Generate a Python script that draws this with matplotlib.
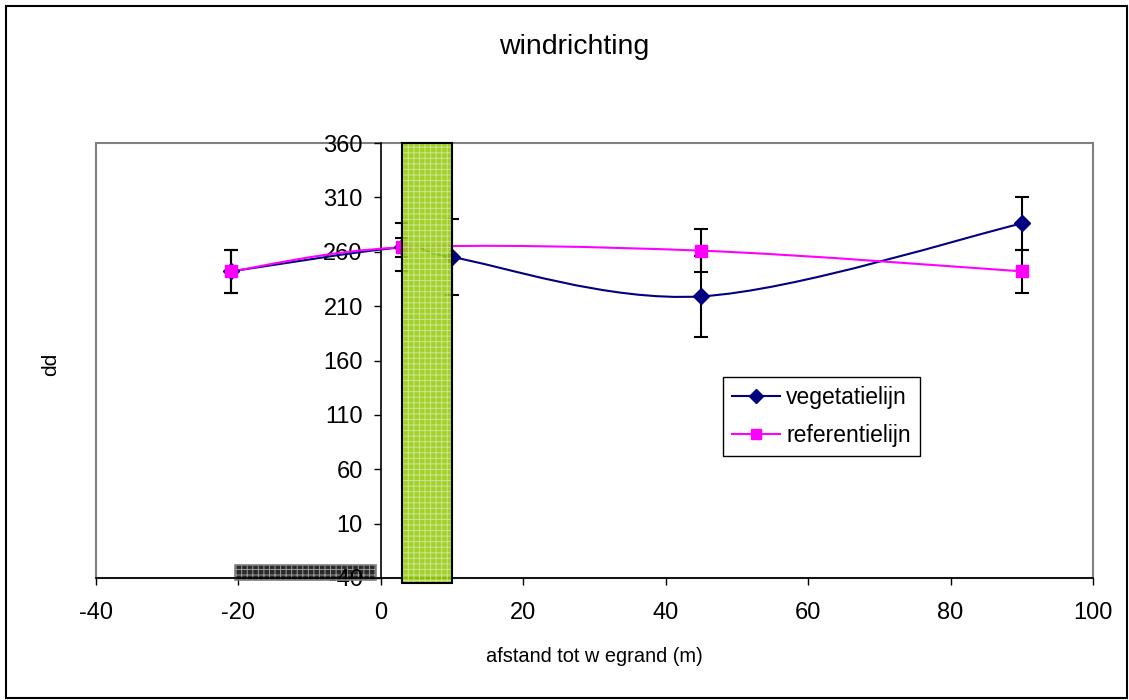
import numpy as np
import matplotlib
matplotlib.use("Agg")
import matplotlib.pyplot as plt
from matplotlib.path import Path
from matplotlib.patches import PathPatch, Rectangle
from matplotlib.lines import Line2D

plt.rcParams['font.family'] = ['Liberation Sans', 'DejaVu Sans']
plt.rcParams['hatch.linewidth'] = 0.7

# data
veg_x = [-21, 3, 10, 45, 90]
veg_y = [242, 264, 255, 219, 286]
veg_err = [20, 22, 35, 37, 24]

ref_x = [-21, 3, 45, 90]
ref_y = [242, 264, 261, 242]
ref_err = [20, 9, 20, 20]

x_ticks = [-40, -20, 0, 20, 40, 60, 80, 100]
y_ticks = [-40, 10, 60, 110, 160, 210, 260, 310, 360]

# shaded zones (x from, x to, y from, y to)
green_zone = (3, 10, -45, 360)
dark_zone = (-20.5, -0.7, -42, -28)


def smooth_path(xs, ys):
    # excel style smoothed line: bezier segments, control points at 1/6
    pts = np.column_stack([xs, ys]).astype(float)
    n = len(pts)
    verts = [pts[0]]
    codes = [Path.MOVETO]
    for i in range(n - 1):
        p0 = pts[i - 1] if i > 0 else pts[i]
        p1 = pts[i]
        p2 = pts[i + 1]
        p3 = pts[i + 2] if i + 2 < n else pts[i + 1]
        c1 = p1 + (p2 - p0) / 6.0
        c2 = p2 - (p3 - p1) / 6.0
        verts += [c1, c2, p2]
        codes += [Path.CURVE4] * 3
    return Path(verts, codes)


fig = plt.figure(figsize=(11.29, 7.0), dpi=100)
ax = fig.add_axes([96 / 1129, 1 - 578 / 700, 997 / 1129, 435 / 700])

ax.set_xlim(-40, 100)
ax.set_ylim(-40, 360)

# error bars
ax.errorbar(veg_x, veg_y, yerr=veg_err, fmt='none', ecolor='black',
            elinewidth=1.5, capsize=5, capthick=1.5, zorder=2)
ax.errorbar(ref_x, ref_y, yerr=ref_err, fmt='none', ecolor='black',
            elinewidth=1.5, capsize=5, capthick=1.5, zorder=2)

# smoothed lines
ax.add_patch(PathPatch(smooth_path(veg_x, veg_y), fill=False,
                       edgecolor='#000080', lw=1.5, zorder=3))
ax.add_patch(PathPatch(smooth_path(ref_x, ref_y), fill=False,
                       edgecolor='#ff00ff', lw=1.5, zorder=3.1))
ax.plot(veg_x, veg_y, linestyle='none', marker='D', markersize=8.5,
        color='#000080', zorder=4)
ax.plot(ref_x, ref_y, linestyle='none', marker='s', markersize=8,
        color='#ff00ff', zorder=4.1)

# green zone on top, slightly see-through
gx0, gx1, gy0, gy1 = green_zone
ax.add_patch(Rectangle((gx0, gy0), gx1 - gx0, gy1 - gy0, facecolor='#99cc11',
                       edgecolor='#d0e8a0', hatch='+++', lw=0, alpha=0.9,
                       zorder=5, clip_on=False))
ax.add_patch(Rectangle((gx0, gy0), gx1 - gx0, gy1 - gy0, fill=False,
                       edgecolor='black', lw=1.5, zorder=5.1, clip_on=False))

dx0, dx1, dy0, dy1 = dark_zone
ax.add_patch(Rectangle((dx0, dy0), dx1 - dx0, dy1 - dy0, facecolor='#2a2a2a',
                       edgecolor='#9a9a9a', hatch='+++', lw=0,
                       zorder=1.5, clip_on=False))
ax.add_patch(Rectangle((dx0, dy0), dx1 - dx0, dy1 - dy0, fill=False,
                       edgecolor='#808080', lw=1.2, zorder=1.6, clip_on=False))

# axes look
ax.spines['left'].set_position(('data', 0))
ax.spines['left'].set_color('black')
ax.spines['left'].set_linewidth(1.2)
ax.spines['bottom'].set_color('black')
ax.spines['bottom'].set_linewidth(1.2)
ax.spines['top'].set_visible(False)
ax.spines['right'].set_visible(False)
ax.add_patch(Rectangle((0, 0), 1, 1, transform=ax.transAxes, fill=False,
                       edgecolor='#808080', lw=1.5, zorder=0.5, clip_on=False))

ax.set_xticks(x_ticks)
ax.set_yticks(y_ticks)
ax.set_xticklabels([str(v) for v in x_ticks])
ax.set_yticklabels([str(v) for v in y_ticks])
ax.tick_params(axis='x', direction='out', length=5, width=1, pad=12, labelsize=17)
ax.tick_params(axis='y', direction='out', length=5, width=1, pad=8, labelsize=17)
for lab in ax.get_yticklabels():
    lab.set_zorder(6)

# texts
fig.text(574 / 1129, 1 - 47 / 700, 'windrichting', ha='center', va='center',
         fontsize=20.5)
fig.text(594 / 1129, 1 - 657 / 700, 'afstand tot w egrand (m)', ha='center',
         va='center', fontsize=14.4)
fig.text(51 / 1129, 1 - 364 / 700, 'dd', ha='center', va='center',
         rotation=90, fontsize=15)

handles = [
    Line2D([], [], color='#000080', lw=1.5, marker='D', markersize=7),
    Line2D([], [], color='#ff00ff', lw=1.5, marker='s', markersize=7),
]
leg = fig.legend(handles, ['vegetatielijn', 'referentielijn'],
                 loc='upper left', bbox_to_anchor=(723 / 1129, 1 - 377 / 700),
                 bbox_transform=fig.transFigure, borderaxespad=0,
                 fontsize=16.5, frameon=True, fancybox=False, framealpha=1,
                 edgecolor='black', handlelength=2.1, handletextpad=0.25,
                 labelspacing=0.65, borderpad=0.4)
leg.get_frame().set_linewidth(1.0)

# outer chart border
fig.add_artist(Rectangle((6 / 1129, 2 / 700), 1121 / 1129, 692 / 700,
                         transform=fig.transFigure, fill=False,
                         edgecolor='black', lw=1.5))

fig.savefig('out.png', dpi=100)
